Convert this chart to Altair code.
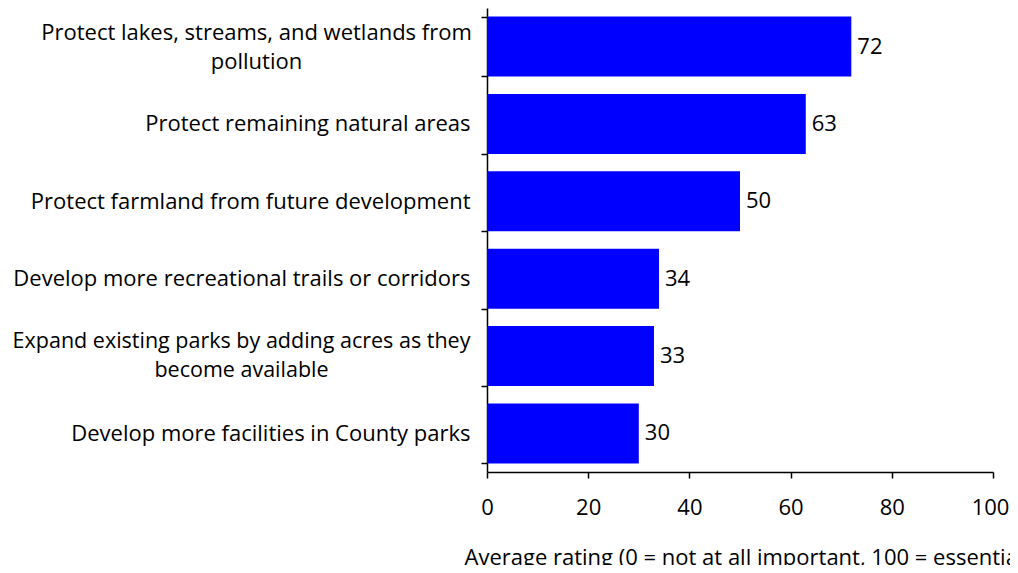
import altair as alt
import pandas as pd

categories = [
    "Protect lakes, streams, and wetlands from\npollution",
    "Protect remaining natural areas",
    "Protect farmland from future development",
    "Develop more recreational trails or corridors",
    "Expand existing parks by adding acres as they\nbecome available",
    "Develop more facilities in County parks",
]
values = [72, 63, 50, 34, 33, 30]
x_ticks = [0, 20, 40, 60, 80, 100]

df = pd.DataFrame({"cat": categories, "val": values})

FONT = "Open Sans"
FS = 22

multi = "indexof(datum.label, '\\n') >= 0"
first_wrapped = "indexof(datum.label, 'Protect lakes') == 0"
second_wrapped = "indexof(datum.label, 'Expand') == 0"

y_enc = alt.Y(
    "cat:N",
    sort=categories,
    title=None,
    scale=alt.Scale(paddingInner=0.225, paddingOuter=0.11),
    axis=alt.Axis(
        labelExpr="split(datum.label, '\\n')",
        labelFont=FONT,
        labelFontSize={"condition": {"test": second_wrapped, "value": 21.5}, "value": FS},
        labelColor="black",
        labelLineHeight=29,
        labelLimit=0,
        labelAlign={"condition": {"test": multi, "value": "center"}, "value": "right"},
        labelPadding={
            "condition": [
                {"test": first_wrapped, "value": 225},
                {"test": second_wrapped, "value": 240},
            ],
            "value": 11,
        },
        labelOffset={"condition": {"test": multi, "value": -14.5}, "value": 0},
        tickBand="extent",
        tickSize=6,
        tickColor="black",
        domainColor="black",
        domainWidth=1.5,
        tickWidth=1.5,
        grid=False,
    ),
)

x_enc = alt.X(
    "val:Q",
    scale=alt.Scale(domain=[0, 100], nice=False),
    axis=alt.Axis(
        values=x_ticks,
        title="Average rating (0 = not at all important, 100 = essential)",
        titleFont=FONT,
        titleFontSize=FS,
        titleFontWeight="normal",
        titleColor="black",
        titleAnchor="start",
        titleAlign="left",
        titleX=-23,
        titleY=92,
        titleBaseline="alphabetic",
        labelFont=FONT,
        labelFontSize=FS,
        labelColor="black",
        labelPadding=19,
        labelOffset={"condition": {"test": "datum.value == 100", "value": -3}, "value": 0},
        tickSize=6,
        tickColor="black",
        tickWidth=1.5,
        domainColor="black",
        domainWidth=1.5,
        grid=False,
        labelFlush=False,
    ),
)

bars = alt.Chart(df).mark_bar(color="#0000FF").encode(x=x_enc, y=y_enc)

labels = alt.Chart(df).mark_text(
    align="left", baseline="middle", dx=6, font=FONT, fontSize=FS, color="black"
).encode(x="val:Q", y=alt.Y("cat:N", sort=categories), text="val:Q")

chart = (
    alt.layer(bars, labels)
    .properties(
        width=506,
        height=464,
        background="white",
        autosize=alt.AutoSizeParams(type="none"),
        padding={"left": 479, "top": 0, "right": 17, "bottom": 93},
    )
    .configure_view(stroke=None, strokeWidth=0)
)

chart.save("out.html", embed_options={"renderer": "svg", "actions": False})
